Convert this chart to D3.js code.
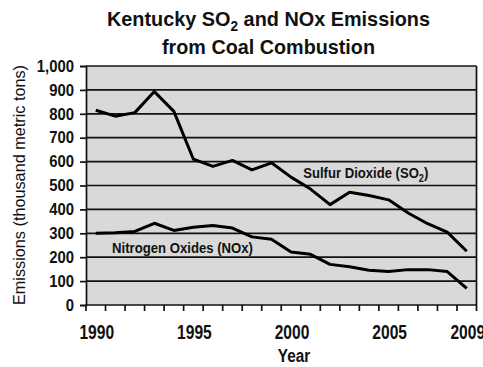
<!DOCTYPE html>
<html>
<head>
<meta charset="utf-8">
<script src="https://cdn.jsdelivr.net/npm/d3@7"></script>
<style>
  html, body { margin: 0; padding: 0; background: #fff; }
  svg { display: block; font-family: "Liberation Sans", Arial, sans-serif; }
</style>
</head>
<body>
<svg id="chart" width="483" height="367"></svg>
<script>
// Kentucky coal-combustion emissions, thousand metric tons
const years = d3.range(1990, 2010);
const so2 = [815, 790, 805, 893, 810, 610, 580, 605, 565, 595,
             535, 485, 420, 472, 458, 440, 385, 340, 305, 225];
const nox = [300, 302, 308, 342, 312, 325, 333, 322, 285, 275,
             222, 212, 170, 160, 145, 140, 148, 148, 140, 70];
const yTicks = [0, 100, 200, 300, 400, 500, 600, 700, 800, 900, 1000];
const xTickLabels = [1990, 1995, 2000, 2005, 2009];

const svg = d3.select("#chart");
const margin = { left: 86, right: 6.5, top: 66, bottom: 62 };
const W = 483, H = 367;
const x = d3.scaleBand().domain(years).range([margin.left, W - margin.right]);
const y = d3.scaleLinear().domain([0, 1000]).range([H - margin.bottom, margin.top]);
const ink = "#111";

// narrow a text element horizontally by a factor (condensed lettering)
function squeeze(sel, k) {
  sel.each(function () {
    const w = this.getComputedTextLength();
    d3.select(this).attr("textLength", w * k).attr("lengthAdjust", "spacingAndGlyphs");
  });
}

// plot background
svg.append("rect")
  .attr("x", x.range()[0]).attr("y", y(1000))
  .attr("width", x.range()[1] - x.range()[0]).attr("height", y(0) - y(1000))
  .attr("fill", "#d9d9d9");

// horizontal gridlines
svg.append("g").selectAll("line").data(yTicks.filter(d => d > 0)).join("line")
  .attr("x1", x.range()[0]).attr("x2", x.range()[1])
  .attr("y1", d => y(d)).attr("y2", d => y(d))
  .attr("stroke", ink).attr("stroke-width", 1.7);

// right border
svg.append("line")
  .attr("x1", x.range()[1]).attr("x2", x.range()[1])
  .attr("y1", y(1000)).attr("y2", y(0))
  .attr("stroke", ink).attr("stroke-width", 1.7);

// y axis
const yAxis = svg.append("g")
  .attr("transform", `translate(${x.range()[0]},0)`)
  .call(d3.axisLeft(y).tickValues(yTicks).tickSize(6).tickPadding(6).tickFormat(d3.format(",")));
yAxis.select(".domain").attr("stroke", ink).attr("stroke-width", 1.7);
yAxis.selectAll(".tick line").attr("stroke", ink).attr("stroke-width", 1.7);
yAxis.selectAll("text").attr("font-size", 16.5).attr("font-weight", "bold").attr("fill", ink)
  .attr("font-family", "'Liberation Sans', Arial, sans-serif")
  .call(squeeze, 0.9);

// x axis: ticks on category boundaries
const xBase = svg.append("g").attr("transform", `translate(0,${y(0)})`);
xBase.append("line")
  .attr("x1", x.range()[0]).attr("x2", x.range()[1])
  .attr("stroke", ink).attr("stroke-width", 1.7);
const bounds = years.map(d => x(d)).concat([x.range()[1]]);
xBase.selectAll("line.tick").data(bounds).join("line").attr("class", "tick")
  .attr("x1", d => d).attr("x2", d => d).attr("y1", 0).attr("y2", 6)
  .attr("stroke", ink).attr("stroke-width", 1.7);
xBase.selectAll("text").data(xTickLabels).join("text")
  .attr("x", d => x(d) + x.bandwidth() / 2 + 1).attr("y", 34)
  .attr("text-anchor", "middle").attr("font-size", 19.5).attr("font-weight", "bold").attr("fill", ink)
  .text(d => d)
  .call(squeeze, 0.8);

// series lines
const line = d3.line().x((d, i) => x(years[i]) + x.bandwidth() / 2).y(d => y(d));
[so2, nox].forEach(s => {
  svg.append("path").datum(s).attr("d", line)
    .attr("fill", "none").attr("stroke", "#000").attr("stroke-width", 3)
    .attr("stroke-linejoin", "round");
});

// series labels
const lab = svg.append("g").attr("font-size", 15).attr("font-weight", "bold").attr("fill", ink);
const soLab = lab.append("text").attr("x", x(2001) + 2.5).attr("y", y(531))
  .attr("textLength", 125).attr("lengthAdjust", "spacingAndGlyphs");
soLab.append("tspan").text("Sulfur Dioxide (SO");
soLab.append("tspan").attr("font-size", 10.5).attr("dy", 3.5).text("2");
soLab.append("tspan").attr("dy", -3.5).text(")");
lab.append("text").attr("x", x(1990) + 26).attr("y", y(216)).text("Nitrogen Oxides (NOx)")
  .attr("textLength", 141).attr("lengthAdjust", "spacingAndGlyphs");

// title
const title = svg.append("g").attr("font-size", 20.5).attr("font-weight", "bold").attr("fill", ink)
  .attr("text-anchor", "middle");
const t1 = title.append("text").attr("x", 268.5).attr("y", 25.7)
  .attr("textLength", 323).attr("lengthAdjust", "spacingAndGlyphs");
t1.append("tspan").text("Kentucky SO");
t1.append("tspan").attr("font-size", 14).attr("dy", 5).text("2");
t1.append("tspan").attr("dy", -5).text(" and NOx Emissions");
title.append("text").attr("x", 268.5).attr("y", 54).text("from Coal Combustion")
  .attr("textLength", 213).attr("lengthAdjust", "spacingAndGlyphs");

// axis titles
svg.append("text").attr("x", 294).attr("y", 362).attr("text-anchor", "middle")
  .attr("font-size", 18).attr("font-weight", "bold").attr("fill", ink).text("Year")
  .call(squeeze, 0.85);
svg.append("text").attr("transform", `translate(25,185) rotate(-90)`)
  .attr("text-anchor", "middle").attr("font-size", 17).attr("fill", ink)
  .text("Emissions (thousand metric tons)")
  .attr("textLength", 240).attr("lengthAdjust", "spacingAndGlyphs");
</script>
</body>
</html>
